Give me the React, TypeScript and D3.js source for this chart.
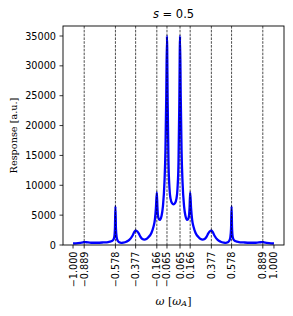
import * as d3 from 'd3';

// frequency axis (in units of omega_A) and response
const omegaValues = [
  -1.0, -0.95, -0.9, -0.889, -0.87, -0.82, -0.76, -0.7, -0.65, -0.62, -0.6, -0.59, -0.583, -0.578,
  -0.573, -0.566, -0.555, -0.54, -0.52, -0.5, -0.47, -0.44, -0.41, -0.39, -0.377, -0.36, -0.345,
  -0.33, -0.31, -0.29, -0.27, -0.25, -0.22, -0.2, -0.185, -0.175, -0.166, -0.16, -0.155, -0.145,
  -0.135, -0.12, -0.105, -0.09, -0.08, -0.072, -0.065, -0.058, -0.05, -0.04, -0.03, -0.015, 0,
  0.015, 0.03, 0.04, 0.05, 0.058, 0.065, 0.072, 0.08, 0.09, 0.105, 0.12, 0.135, 0.145, 0.155,
  0.16, 0.166, 0.175, 0.185, 0.2, 0.22, 0.25, 0.27, 0.29, 0.31, 0.33, 0.345, 0.36, 0.377, 0.39,
  0.41, 0.44, 0.47, 0.5, 0.52, 0.54, 0.555, 0.566, 0.573, 0.578, 0.583, 0.59, 0.6, 0.62, 0.65,
  0.7, 0.76, 0.82, 0.87, 0.889, 0.9, 0.95, 1.0,
];
const responseValues = [
  250, 330, 450, 480, 460, 380, 380, 430, 500, 620, 850, 1300, 2800, 6500,
  2800, 1300, 700, 450, 350, 400, 550, 850, 1500, 2200, 2450, 2250, 1900,
  1400, 1000, 900, 1000, 1300, 2000, 3000, 4300, 6200, 8800, 6300, 5000, 4300,
  4200, 4800, 6500, 10500, 16000, 25000, 35000, 24000, 14000, 9500, 7800, 7000, 6800,
  7000, 7800, 9500, 14000, 24000, 35000, 25000, 16000, 10500, 6500, 4800, 4200, 4300, 5000,
  6300, 8800, 6200, 4300, 3000, 2000, 1300, 1000, 900, 1000, 1400, 1900, 2250, 2450, 2200,
  1500, 850, 550, 400, 350, 450, 700, 1300, 2800, 6500, 2800, 1300, 850, 620, 500,
  430, 380, 380, 460, 480, 450, 330, 250,
];

// eigenfrequency markers (dashed lines) and x tick labels
const markerOmegas = [-0.889, -0.578, -0.377, -0.166, -0.065, 0.065, 0.166, 0.377, 0.578, 0.889];
const xTicks = [-1.0, -0.889, -0.578, -0.377, -0.166, -0.065, 0.065, 0.166, 0.377, 0.578, 0.889, 1.0];
const yTicks = [0, 5000, 10000, 15000, 20000, 25000, 30000, 35000];

const W = 293;
const H = 316;
const margin = { top: 26, right: 9, bottom: 71, left: 63 };

const sans = 'DejaVu Sans, sans-serif';
const serif = 'DejaVu Serif, serif';

const fmt = (v: number) => (v < 0 ? '\u2212' : '') + Math.abs(v).toFixed(3);

export default function App() {
  const x = d3.scaleLinear().domain([-1.1, 1.1]).range([margin.left, W - margin.right]);
  const y = d3.scaleLinear().domain([0, 36675]).range([H - margin.bottom, margin.top]);

  const pts = omegaValues.map((w, i) => [w, responseValues[i]] as [number, number]);
  const line = d3
    .line<[number, number]>()
    .x((d) => x(d[0]))
    .y((d) => y(d[1]))
    .curve(d3.curveMonotoneX);

  const x0 = margin.left;
  const x1 = W - margin.right;
  const y0 = H - margin.bottom;
  const y1 = margin.top;
  const cx = (x0 + x1) / 2;

  return (
    <svg
      width={W}
      height={H}
      style={{ position: 'absolute', left: 0, top: 0, background: '#fff' }}
    >
      <defs>
        <clipPath id="plot">
          <rect x={x0} y={y1} width={x1 - x0} height={y0 - y1} />
        </clipPath>
      </defs>

      <path
        d={line(pts) || ''}
        fill="none"
        stroke="#0000ff"
        strokeWidth={2.3}
        strokeLinejoin="round"
        clipPath="url(#plot)"
      />

      {/* dashed markers */}
      {markerOmegas.map((w) => (
        <line
          key={w}
          x1={x(w)}
          x2={x(w)}
          y1={y1}
          y2={y0}
          stroke="#000"
          strokeWidth={0.7}
          strokeDasharray="2.6,1.2"
        />
      ))}

      {/* frame */}
      <rect x={x0} y={y1} width={x1 - x0} height={y0 - y1} fill="none" stroke="#000" strokeWidth={0.9} />

      {/* y axis */}
      {yTicks.map((t) => (
        <g key={t}>
          <line x1={x0 - 3.5} x2={x0} y1={y(t)} y2={y(t)} stroke="#000" strokeWidth={0.8} />
          <text
            x={x0 - 7}
            y={y(t)}
            textAnchor="end"
            dominantBaseline="central"
            fontFamily={sans}
            fontSize={9.7}
            fill="#000"
          >
            {t}
          </text>
        </g>
      ))}

      {/* x axis */}
      {xTicks.map((t) => (
        <g key={t}>
          <line x1={x(t)} x2={x(t)} y1={y0} y2={y0 + 3.5} stroke="#000" strokeWidth={0.8} />
          <text
            transform={`translate(${x(t)},${y0 + 6.5}) rotate(-90)`}
            textAnchor="end"
            dominantBaseline="central"
            fontFamily={sans}
            fontSize={9.7}
            fill="#000"
          >
            {fmt(t)}
          </text>
        </g>
      ))}

      {/* title */}
      <text x={cx} y={14} textAnchor="middle" dominantBaseline="central" fontFamily={sans} fontSize={11.5} fill="#000">
        <tspan fontStyle="italic">s</tspan>
        <tspan> = 0.5</tspan>
      </text>

      {/* axis labels */}
      <text x={cx} y={301} textAnchor="middle" dominantBaseline="central" fontFamily={serif} fontSize={11} fill="#000">
        <tspan fontStyle="italic">ω</tspan>
        <tspan> [</tspan>
        <tspan fontStyle="italic">ω</tspan>
        <tspan fontStyle="italic" fontSize={8} dy={2}>A</tspan>
        <tspan dy={-2}>]</tspan>
      </text>
      <text
        transform={`translate(13,${(y0 + y1) / 2}) rotate(-90)`}
        textAnchor="middle"
        dominantBaseline="central"
        fontFamily={serif}
        fontSize={9.7}
        fill="#000"
      >
        Response [a.u.]
      </text>
    </svg>
  );
}
